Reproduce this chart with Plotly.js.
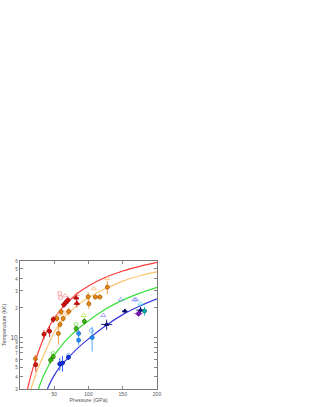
<!DOCTYPE html>
<html><head><meta charset="utf-8">
<script src="https://cdn.plot.ly/plotly-3.0.1.min.js"></script>
<style>html,body{margin:0;padding:0;background:#fff;}#chart{width:314px;height:407px;}</style>
</head><body><div id="chart"></div>
<script>
// Curves
const redCurveP = [11, 17, 23, 30, 36, 48, 60, 70, 85, 100, 125, 150, 175, 200];
const redCurveT = [3, 4.4, 6, 8.2, 10.5, 15, 19.5, 23, 28.5, 33.5, 41, 47.5, 53, 58];
const orangeCurveP = [16, 25, 34, 44, 52, 60, 70, 85, 100, 125, 150, 175, 200];
const orangeCurveT = [3, 4.6, 6.5, 9.3, 12, 14.5, 17.5, 21.5, 25.5, 31.5, 37.5, 42.5, 46.5];
const greenCurveP = [27, 33, 40, 48, 60, 70, 83, 100, 125, 150, 175, 200];
const greenCurveT = [3, 3.9, 4.9, 6.3, 8.2, 9.8, 12, 14.8, 19.5, 24, 28.3, 32.4];
const blueCurveP = [40, 47, 55, 63, 72, 85, 100, 125, 150, 175, 200];
const blueCurveT = [3, 3.8, 4.7, 5.5, 6.4, 7.9, 9.7, 13.2, 17.1, 20.9, 24.7];

// Data points
const redP = [23, 35, 43, 48.5, 64, 67, 70];
const redT = [5.3, 10.8, 11.6, 15.3, 21.6, 22.8, 24];
const redErrP = [2, 2, 3, 3, 4, 3, 4];
const redErrT = [0.8, 1.2, 1.5, 1.2, 1.5, 1.5, 2];
const redTriP = [82, 83];
const redTriT = [25.3, 22.3];
const salmonSqP = [58, 59];
const salmonSqT = [28, 25.5];
const salmonTriP = [66, 83];
const salmonTriT = [26.6, 27.5];
const orangeP = [22.5, 54, 56, 58.5, 60, 63, 71, 99.5, 100.5, 110, 116.5, 127.5];
const orangeT = [6.1, 15.6, 11, 13.6, 18.3, 15.6, 18.4, 26, 22, 25.8, 25.8, 32.5];
const orangeErrP = [2, 2, 2, 2, 3, 2, 4, 2, 3, 4, 4, 3];
const orangeErrT = [0.6, 1.2, 2.5, 1.2, 1.5, 1.2, 1.6, 3, 2.5, 1.5, 1.5, 5];
const ltOrangeTriP = [57, 64, 107.8, 127.5];
const ltOrangeTriT = [17.4, 17.8, 31.5, 39.8];
const greenP = [44.6, 48.5, 82, 94];
const greenT = [5.9, 6.4, 12.3, 14.6];
const greenErrP = [2, 2, 2, 2];
const greenErrT = [0.5, 0.6, 1, 1.2];
const greenOpenP = [48.5, 82];
const greenOpenT = [6.9, 13.6];
const ltGreenTriP = [93];
const ltGreenTriT = [16.8];
const blueP = [58, 62, 70.8];
const blueT = [5.4, 5.5, 6.3];
const blueErrP = [3, 3, 2];
const blueErrT = [0.8, 1.0, 0.4];
const blueOpenP = [70.8, 104];
const blueOpenT = [6.6, 11.8];
const ltBlueP = [85.6, 85.6, 105.3];
const ltBlueT = [11, 9.4, 10];
const ltBlueErrP = [2, 2, 3];
const ltBlueErrT = [1, 1, 2.8];
const navyP = [126.5, 153, 176];
const navyT = [13.6, 18.6, 19];
const navyErrP = [8, 4, 6];
const navyErrT = [1.6, 1, 1.5];
const purpleP = [173];
const purpleT = [17.5];
const tealP = [181.8];
const tealT = [18.6];
const lavTriP = [121.6, 147.2, 167, 169.4];
const lavTriT = [16.8, 24.3, 24.3, 24.3];
const cyanTriP = [176];
const cyanTriT = [22];

const yTickVals = [3, 4, 5, 6, 7, 8, 9, 10, 20, 30, 40, 50, 60];
const yTickText = ['3','4','5','6','7','8','9','10','2','3','4','5','6'];
const xTickVals = [50, 100, 150, 200];
const xTickText = ['50', '100', '150', '200'];

function curve(x, y, c) {
  return {x: x, y: y, mode: 'lines', type: 'scatter', line: {color: c, width: 1.2, shape: 'spline'}, hoverinfo: 'skip'};
}
function pts(x, y, sym, fill, edge, size, ex, ey, ecol) {
  const t = {x: x, y: y, mode: 'markers', type: 'scatter',
    marker: {symbol: sym, size: size, color: fill, line: {color: edge, width: 0.7}}};
  if (ex) t.error_x = {type: 'data', array: ex, visible: true, color: ecol || edge, thickness: 1, width: 0};
  if (ey) t.error_y = {type: 'data', array: ey, visible: true, color: ecol || edge, thickness: 1, width: 0};
  return t;
}
const small = s => '<span style="font-size:4.5px">' + s + '</span>';
const data = [
  curve(redCurveP, redCurveT, '#ff3a3a'),
  curve(orangeCurveP, orangeCurveT, '#ffc470'),
  curve(greenCurveP, greenCurveT, '#36e036'),
  curve(blueCurveP, blueCurveT, '#3a3ae0'),
  pts(salmonSqP, salmonSqT, 'square-open', '#ff8a8a', '#ff8a8a', 3.5),
  pts(salmonTriP, salmonTriT, 'triangle-up-open', '#ff8a8a', '#ff8a8a', 4.5),
  pts(ltOrangeTriP, ltOrangeTriT, 'triangle-up-open', '#ffb060', '#ffb060', 4.5),
  pts(orangeP, orangeT, 'circle', '#e88a10', '#a05000', 4, orangeErrP, orangeErrT, '#f0a040'),
  pts(redP, redT, 'circle', '#e01010', '#800000', 4, redErrP, redErrT, '#e83030'),
  pts(redTriP, redTriT, 'triangle-up', '#e01010', '#800000', 4.5, [4, 4], [2, 2], '#e83030'),
  pts(greenOpenP, greenOpenT, 'circle-open', '#60e040', '#60e040', 4),
  pts(ltGreenTriP, ltGreenTriT, 'triangle-up-open', '#a8e830', '#a8e830', 4.5),
  pts(greenP, greenT, 'circle', '#40c010', '#206000', 4, greenErrP, greenErrT, '#50c820'),
  pts(lavTriP, lavTriT, 'triangle-up-open', '#8080ff', '#8080ff', 4.5),
  pts(cyanTriP, cyanTriT, 'triangle-up-open', '#30d0e0', '#30d0e0', 4.5),
  pts(blueOpenP, blueOpenT, 'circle-open', '#60a0ff', '#60a0ff', 4),
  pts(ltBlueP, ltBlueT, 'circle', '#1e90ff', '#1060c0', 4, ltBlueErrP, ltBlueErrT, '#50a8ff'),
  pts(blueP, blueT, 'circle', '#1030f0', '#001080', 4, blueErrP, blueErrT, '#3060ff'),
  pts(navyP, navyT, 'triangle-up', '#00108a', '#000040', 4, navyErrP, navyErrT, '#1020a0'),
  pts(purpleP, purpleT, 'circle', '#8010c0', '#500080', 4, [6], [1.2], '#9a30d8'),
  pts(tealP, tealT, 'circle', '#10b0b0', '#006060', 4, [3], [2], '#30c8c8')
];
const layout = {
  width: 314, height: 407,
  margin: {l: 20, r: 157, t: 261, b: 18, pad: 0},
  showlegend: false,
  paper_bgcolor: '#fff', plot_bgcolor: '#fff',
  font: {family: 'Liberation Sans, Arial, sans-serif', color: '#555', size: 5},
  xaxis: {range: [0, 200], tickvals: xTickVals, ticktext: xTickText,
    ticks: 'inside', ticklen: 3, tickcolor: '#666', tickwidth: 0.8,
    showline: true, linecolor: '#777', linewidth: 1, mirror: 'allticks',
    showgrid: false, zeroline: false, tickfont: {size: 5, color: '#555'},
    title: {text: 'Pressure (GPa)', font: {size: 5.5, color: '#555'}, standoff: 2}},
  yaxis: {type: 'log', range: [Math.log10(3), Math.log10(60)],
    tickvals: yTickVals, ticktext: yTickText.map((s, i) => s === '10' ? s : small(s)),
    ticks: 'inside', ticklen: 3, tickcolor: '#666', tickwidth: 0.8,
    showline: true, linecolor: '#777', linewidth: 1, mirror: 'allticks',
    showgrid: false, zeroline: false, tickfont: {size: 6.5, color: '#555'},
    title: {text: 'Temperature (kK)', font: {size: 5.5, color: '#555'}, standoff: 3}}
};
Plotly.newPlot('chart', data, layout, {displayModeBar: false, staticPlot: true});
</script></body></html>
